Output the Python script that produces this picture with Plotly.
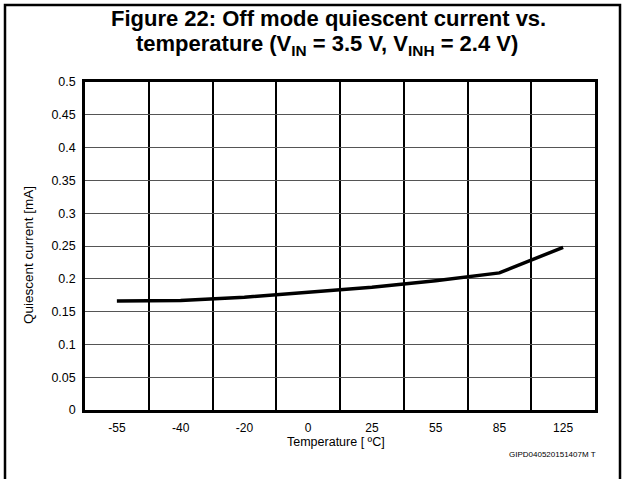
import plotly.graph_objects as go

# Off-mode quiescent current vs. temperature
temperatures = ["-55", "-40", "-20", "0", "25", "55", "85", "125"]
current_ma = [0.166, 0.167, 0.172, 0.179, 0.187, 0.197, 0.209, 0.248]
y_ticks = [0, 0.05, 0.1, 0.15, 0.2, 0.25, 0.3, 0.35, 0.4, 0.45, 0.5]

W, H = 627, 479
L, R, T, B = 85, 32, 82, 69
pw, ph = W - L - R, H - T - B


def px_x(x):
    return (x - L) / pw


def px_y(y):
    return (H - B - y) / ph


fig = go.Figure()
fig.add_trace(go.Scatter(
    x=temperatures, y=current_ma, mode="lines",
    line=dict(color="black", width=3.5),
    hoverinfo="x+y", showlegend=False,
))

font = "Liberation Sans, Arial, sans-serif"
title_font = dict(family=font, size=22, color="black")

fig.update_layout(
    width=W, height=H,
    margin=dict(l=L, r=R, t=T, b=B),
    paper_bgcolor="white", plot_bgcolor="white",
    font=dict(family=font, color="black", size=12),
    xaxis=dict(
        type="category", tickson="boundaries",
        range=[-0.5, len(temperatures) - 0.5],
        showgrid=True, gridcolor="black", gridwidth=1.5,
        showline=True, linecolor="black", linewidth=2.5, mirror=True,
        ticks="", ticklen=0, ticklabelstandoff=5,
        tickfont=dict(size=12),
        fixedrange=True,
    ),
    yaxis=dict(
        range=[0, 0.5], tickvals=y_ticks,
        ticktext=[f"{v:g}" for v in y_ticks],
        showgrid=True, gridcolor="#555555", gridwidth=1.3,
        showline=True, linecolor="black", linewidth=2.5, mirror=True,
        ticks="", zeroline=False, ticklabelstandoff=4,
        tickfont=dict(size=12.5),
        fixedrange=True,
    ),
    annotations=[
        dict(text="<b>Figure 22: Off mode quiescent current vs.</b>",
             xref="paper", yref="paper", x=px_x(328), y=px_y(19),
             xanchor="center", yanchor="middle", showarrow=False,
             font=title_font),
        dict(text="<b>temperature (V<sub>IN</sub> = 3.5 V, "
                  "V<sub>INH</sub> = 2.4 V)</b>",
             xref="paper", yref="paper", x=px_x(327), y=px_y(45),
             xanchor="center", yanchor="middle", showarrow=False,
             font=title_font),
        dict(text="Temperature [ ºC]", xref="paper", yref="paper",
             x=px_x(336), y=px_y(442), xanchor="center", yanchor="middle",
             showarrow=False, font=dict(size=12.5, family=font)),
        dict(text="Quiescent current [mA]", xref="paper", yref="paper",
             x=px_x(28), y=px_y(255), xanchor="center", yanchor="middle",
             textangle=-90, showarrow=False, font=dict(size=13.5, family=font)),
        dict(text="GIPD040520151407M T", xref="paper", yref="paper",
             x=px_x(598), y=px_y(454), xanchor="right", yanchor="middle",
             showarrow=False, font=dict(size=8, family=font)),
    ],
    shapes=[dict(
        type="path", xref="paper", yref="paper",
        path=f"M {px_x(5)} {px_y(490)} L {px_x(5)} {px_y(5)} "
             f"L {px_x(620)} {px_y(5)} L {px_x(620)} {px_y(490)}",
        line=dict(color="black", width=2.5),
    )],
)

fig.write_html("out.html")
